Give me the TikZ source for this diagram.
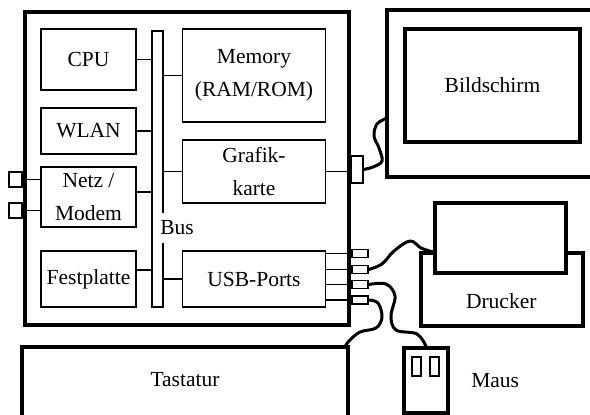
\documentclass[tikz,border=0pt]{standalone}
\usepackage{fontspec}
\setmainfont{Liberation Serif}
\usetikzlibrary{positioning, calc}
\newcommand{\modfont}{\fontsize{21.5}{33}\selectfont}
\tikzset{
  module/.style={draw, line width=1.3pt, inner sep=0pt, align=center, font=\modfont},
  thickbox/.style={draw, line width=4pt, inner sep=0pt},
  port/.style={draw, line width=1.3pt, inner sep=0pt, fill=white},
  wire/.style={line width=1.3pt},
  cable/.style={line width=3pt, line join=round, line cap=round}
}
\begin{document}
\begin{tikzpicture}[x=1pt,y=-1pt]
  \useasboundingbox (0,0) rectangle (590,415);

  % Rechner
  \node[thickbox, minimum width=324pt, minimum height=313pt] (pc) at (187,168.5) {};

  % left column
  \node[module, minimum width=95pt, minimum height=61pt] (cpu)  at (88.5,59.5) {CPU};
  \node[module, minimum width=95pt, minimum height=46pt] (wlan) at (88.5,131) {WLAN};
  \node[module, minimum width=95pt, minimum height=60pt] (netz) at (88.5,197) {Netz /\\Modem};
  \node[module, minimum width=95pt, minimum height=56pt] (fest) at (88.5,279) {Festplatte};

  % Bus
  \node[module, minimum width=11pt, minimum height=276pt] (bus) at (157.5,169) {};

  % right column
  \node[module, minimum width=143pt, minimum height=93pt] (mem)    at (254,75.5) {Memory\\(RAM/ROM)};
  \node[module, minimum width=143pt, minimum height=63pt] (grafik) at (254,171.5) {Grafik-\\karte};
  \node[module, minimum width=143pt, minimum height=56pt] (usb)    at (254,279) {USB-Ports};

  % bus lines
  \draw[wire] (cpu.east) -- (cpu.east -| bus.west);
  \draw[wire] (wlan.east) -- (wlan.east -| bus.west);
  \draw[wire] ([yshift=5pt]netz.east) -- ([yshift=5pt]netz.east -| bus.west);
  \draw[wire] ([yshift=9pt]fest.east) -- ([yshift=9pt]fest.east -| bus.west);
  \draw[wire] (mem.west) -- (mem.west -| bus.east);
  \draw[wire] (grafik.west) -- (grafik.west -| bus.east);
  \draw[wire] (usb.west) -- (usb.west -| bus.east);
  \node[fill=white, inner sep=1.5pt, minimum height=30pt, font=\modfont] (buslabel) at (177,228) {Bus};

  % ports
  \node[port, minimum width=13pt, minimum height=15pt] (np1) at (15.5,179.5) {};
  \node[port, minimum width=13pt, minimum height=15pt] (np2) at (15.5,210.5) {};
  \draw[wire] (np1.east) -- (np1.east -| netz.west);
  \draw[wire] (np2.east) -- (np2.east -| netz.west);
  \node[port, minimum width=12pt, minimum height=27pt] (gport) at (357,169.5) {};
  \draw[wire] (grafik.east) -- (grafik.east -| gport.west);
  \foreach \i/\y in {1/253.5,2/269.5,3/284.5,4/300}{
    \node[port, minimum width=16pt, minimum height=8pt] (usb\i) at (360,\y) {};
    \draw[wire] (usb\i.west) -- (usb\i.west -| usb.east);
  }

  % Bildschirm
  \node[thickbox, minimum width=213pt, minimum height=167pt] (mon) at (493.5,93.5) {};
  \node[thickbox, minimum width=175pt, minimum height=113pt, font=\modfont] (screen) at (492.5,85.5) {Bildschirm};

  % Drucker
  \node[thickbox, minimum width=162pt, minimum height=73pt] (drucker) at (502,289.5) {};
  \node[thickbox, fill=white, minimum width=131pt, minimum height=70pt] (papier) at (500.5,238) {};
  \node[font=\modfont] (drucklabel) at ($(papier.south)!0.5!(drucker.south)$) {Drucker};

  % Maus
  \node[thickbox, line width=3.5pt, minimum width=44pt, minimum height=65pt] (maus) at (426,380.5) {};
  \node[port, minimum width=9pt, minimum height=19pt] (tasteL) at (416.5,366.5) {};
  \node[port, minimum width=9pt, minimum height=19pt] (tasteR) at (434.5,366.5) {};
  \node[font=\modfont, right=18pt of maus] (mauslabel) {Maus};

  % Tastatur
  \node[thickbox, minimum width=326pt, minimum height=100pt] (tastatur) at (185,397) {};
  \node[font=\modfont] (tastlabel) at (185,380) {Tastatur};

  % cables
  \coordinate (monin) at (387,118);
  \coordinate (druckin) at (433,252);
  \coordinate (tastin) at (345,347);
  \draw[cable] plot[smooth, tension=0.6] coordinates {(gport.east) (373,167) (382,161) (379,148) (374,136) (377,124) (monin)};
  \draw[cable] plot[smooth, tension=0.6] coordinates {(usb2.east) (382,264) (394,251) (410,241) (421,248) (druckin)};
  \draw[cable] plot[smooth, tension=0.6] coordinates {(usb3.east) (386,284) (395,296) (391,316) (396,330) (417,334) (maus.north)};
  \draw[cable] plot[smooth, tension=0.6] coordinates {(usb4.east) (378,303) (382,317) (376,328) (360,332) (349,341) (tastin)};
\end{tikzpicture}
\end{document}
